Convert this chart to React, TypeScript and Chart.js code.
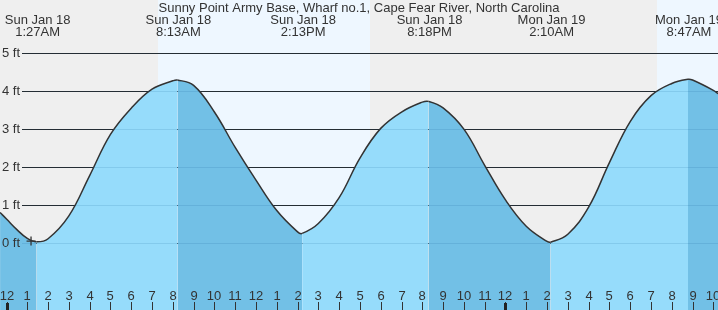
import React, { useEffect, useRef } from "react";
import { Chart, registerables } from "chart.js";

Chart.register(...registerables);

const TITLE = "Sunny Point Army Base, Wharf no.1, Cape Fear River, North Carolina";

// hours since midnight Sun Jan 18
const tideHours = [
  -0.31, 0, 0.5, 1, 1.45, 2, 3, 4, 5, 6, 7, 8, 8.22, 9, 10, 11, 12, 13, 14, 14.22,
  15, 16, 17, 18, 19, 20, 20.3, 21, 22, 23, 24, 25, 26, 26.17, 27, 28, 29, 30, 31,
  32, 32.78, 33, 34, 34.23,
];
// water level, ft
const tideFeet = [
  0.81, 0.64, 0.36, 0.13, 0.04, 0.12, 0.72, 1.78, 2.86, 3.55, 4.05, 4.27, 4.29, 4.15,
  3.45, 2.52, 1.66, 0.86, 0.3, 0.26, 0.52, 1.2, 2.24, 3.02, 3.45, 3.71, 3.73, 3.56,
  3.0, 2.05, 1.14, 0.45, 0.05, 0.03, 0.24, 0.95, 2.12, 3.2, 3.88, 4.2, 4.31, 4.29,
  4.02, 3.93,
];

const extremeHours = [1.45, 8.22, 14.22, 20.3, 26.17, 32.78];
const extremeDays = ["Sun Jan 18", "Sun Jan 18", "Sun Jan 18", "Sun Jan 18", "Mon Jan 19", "Mon Jan 19"];
const extremeTimes = ["1:27AM", "8:13AM", "2:13PM", "8:18PM", "2:10AM", "8:47AM"];

const hourTicks = [
  0, 1, 2, 3, 4, 5, 6, 7, 8, 9, 10, 11, 12, 13, 14, 15, 16, 17, 18, 19, 20, 21, 22,
  23, 24, 25, 26, 27, 28, 29, 30, 31, 32, 33, 34,
];
const hourTickLabels = [
  "12", "1", "2", "3", "4", "5", "6", "7", "8", "9", "10", "11", "12", "1", "2", "3",
  "4", "5", "6", "7", "8", "9", "10", "11", "12", "1", "2", "3", "4", "5", "6", "7",
  "8", "9", "10",
];
const midnightHours = [0, 24];

const footTicks = [0, 1, 2, 3, 4, 5];
const footTickLabels = ["0 ft", "1 ft", "2 ft", "3 ft", "4 ft", "5 ft"];

const daylightStart = [7.3, 31.29];
const daylightEnd = [17.49, 40];

const nowHour = [1.18];
const nowFeet = [0.06];

const X_MIN = -0.3127;
const X_MAX = 34.223;
const Y_MIN = -1.752;
const Y_MAX = 6.393;

const FONT = '13px "Liberation Sans", Arial, sans-serif';
const TEXT = "#333";
const NIGHT = "#efefef";
const DAY = "#eef7ff";
const FILL_RISE = "#96dcfb";
const FILL_FALL = "#72c0e6";

const tidePlugin = {
  id: "tideDecor",
  beforeDraw(chart: any) {
    const { ctx, chartArea: a, scales } = chart;
    const x = scales.x;
    ctx.save();
    ctx.fillStyle = NIGHT;
    ctx.fillRect(a.left, a.top, a.right - a.left, a.bottom - a.top);
    ctx.fillStyle = DAY;
    for (let i = 0; i < daylightStart.length; i++) {
      const x0 = Math.round(x.getPixelForValue(daylightStart[i]));
      const x1 = Math.round(x.getPixelForValue(Math.min(daylightEnd[i], X_MAX)));
      ctx.fillRect(x0, a.top, x1 - x0, a.bottom - a.top);
    }
    ctx.restore();
  },
  beforeDatasetsDraw(chart: any) {
    const { ctx, chartArea: a, scales } = chart;
    const y = scales.y;
    ctx.save();
    ctx.strokeStyle = "#2a2a2a";
    ctx.lineWidth = 1;
    footTicks.forEach((v) => {
      const py = Math.round(y.getPixelForValue(v)) + 0.5;
      ctx.beginPath();
      ctx.moveTo(a.left + 22, py);
      ctx.lineTo(a.right, py);
      ctx.stroke();
    });
    ctx.restore();
  },
  afterDatasetsDraw(chart: any) {
    const { ctx, chartArea: a, scales } = chart;
    const x = scales.x;
    const y = scales.y;
    ctx.save();
    // faint grid lines seen through the water
    ctx.strokeStyle = "rgba(0,70,130,0.12)";
    ctx.lineWidth = 1;
    footTicks.forEach((v) => {
      const py = Math.round(y.getPixelForValue(v)) + 0.5;
      ctx.beginPath();
      ctx.moveTo(a.left + 22, py);
      ctx.lineTo(a.right, py);
      ctx.stroke();
    });
    ctx.font = FONT;
    ctx.fillStyle = TEXT;
    ctx.textAlign = "left";
    ctx.textBaseline = "middle";
    footTicks.forEach((v, i) => {
      const py = y.getPixelForValue(v);
      ctx.fillText(footTickLabels[i], a.left + 2, py + 0.5);
    });
    ctx.textAlign = "center";
    ctx.strokeStyle = "#333";
    hourTicks.forEach((h, i) => {
      const px = Math.round(x.getPixelForValue(h));
      ctx.fillText(hourTickLabels[i], px, a.bottom - 14);
      ctx.beginPath();
      ctx.moveTo(px + 0.5, a.bottom - 8);
      ctx.lineTo(px + 0.5, a.bottom);
      ctx.stroke();
    });
    ctx.fillStyle = "#222";
    midnightHours.forEach((h) => {
      const px = Math.round(x.getPixelForValue(h));
      ctx.fillRect(px - 1, a.bottom - 7, 3, 7);
    });
    ctx.fillStyle = TEXT;
    ctx.textBaseline = "middle";
    ctx.fillText(TITLE, (a.left + a.right) / 2, 8);
    extremeHours.forEach((h, i) => {
      const px = x.getPixelForValue(h) + 1;
      ctx.fillText(extremeDays[i], px, 20);
      ctx.fillText(extremeTimes[i], px, 32);
    });
    ctx.restore();
  },
};

export default function App() {
  const ref = useRef<HTMLCanvasElement | null>(null);
  useEffect(() => {
    document.body.style.margin = "0";
    document.documentElement.style.overflow = "hidden";
    const canvas = ref.current;
    if (!canvas) return;
    const chart = new Chart(canvas, {
      type: "line",
      data: {
        datasets: [
          {
            label: "now",
            data: nowHour.map((h, i) => ({ x: h, y: nowFeet[i] })),
            showLine: false,
            pointStyle: "cross",
            pointRadius: 4.5,
            pointBorderColor: "#333",
            pointBorderWidth: 1.3,
            fill: false,
            order: 0,
          },
          {
            label: "tide",
            data: tideHours.map((h, i) => ({ x: h, y: tideFeet[i] })),
            borderColor: "#333",
            borderWidth: 1.5,
            pointRadius: 0,
            tension: 0.4,
            fill: "start",
            backgroundColor: FILL_RISE,
            segment: {
              backgroundColor: (c: any) =>
                c.p0.parsed.y > c.p1.parsed.y ? FILL_FALL : FILL_RISE,
            },
            order: 1,
          },
        ],
      },
      options: {
        responsive: false,
        animation: false,
        devicePixelRatio: 1,
        layout: { padding: 0, autoPadding: false },
        plugins: { legend: { display: false }, tooltip: { enabled: false }, title: { display: false } },
        scales: {
          x: { type: "linear", min: X_MIN, max: X_MAX, display: false },
          y: { type: "linear", min: Y_MIN, max: Y_MAX, display: false },
        },
      },
      plugins: [tidePlugin],
    } as any);
    return () => chart.destroy();
  }, []);
  return (
    <div style={{ position: "fixed", left: 0, top: 0, width: 718, height: 310 }}>
      <style>{"html,body{margin:0;padding:0;}"}</style>
      <canvas ref={ref} width={718} height={310} style={{ display: "block" }} />
    </div>
  );
}
